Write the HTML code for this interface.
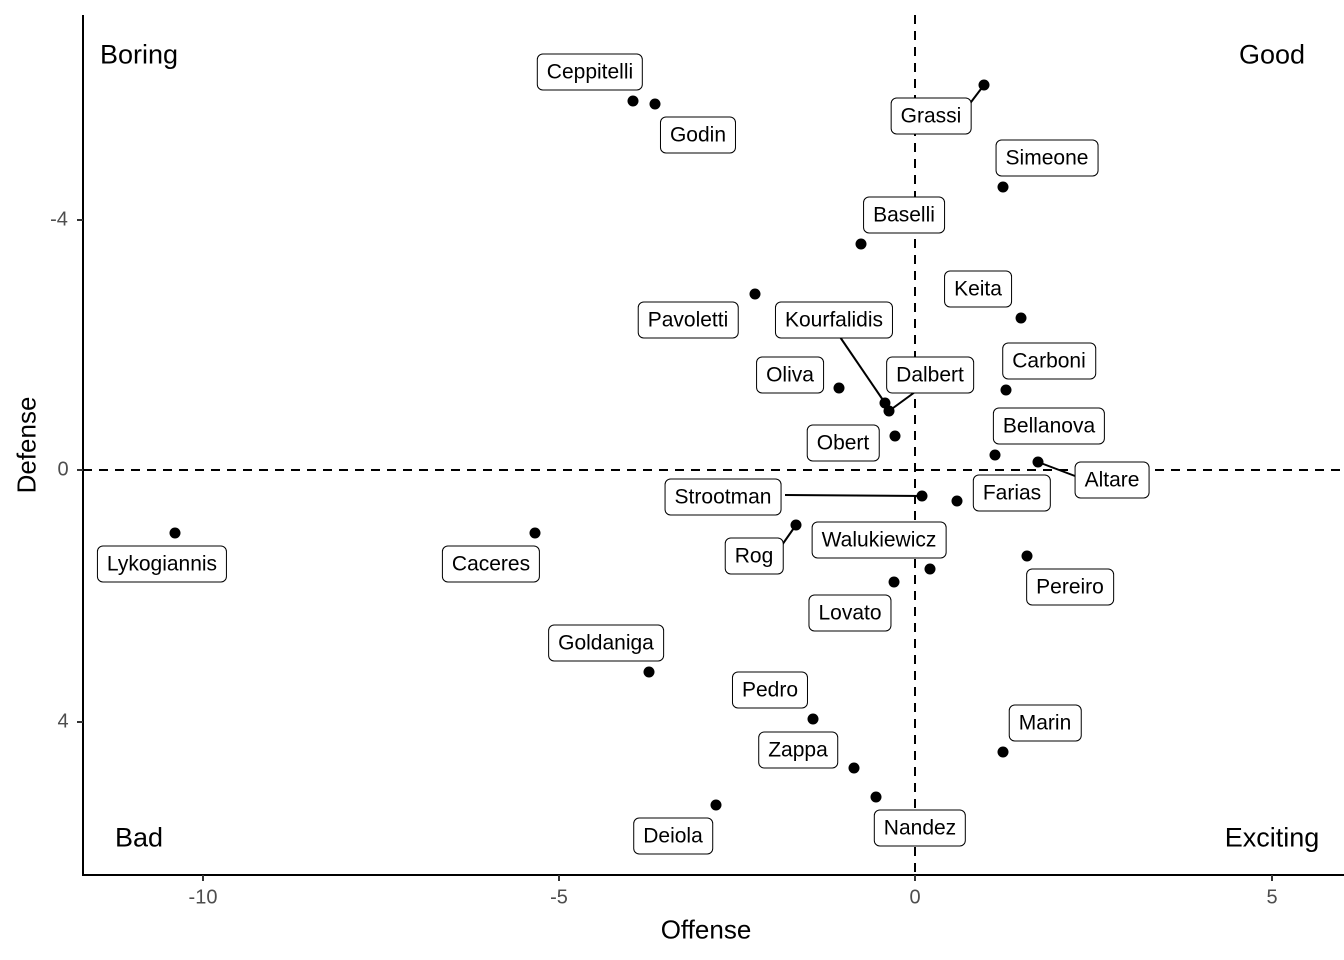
<!DOCTYPE html>
<html><head><meta charset="utf-8"><style>
body{margin:0;width:1344px;height:960px;background:#fff;position:relative;overflow:hidden;font-family:"Liberation Sans",Arial,sans-serif}
svg{position:absolute;left:0;top:0}
.l{position:absolute;transform:translate(-50%,-50%);background:#fff;border:1px solid #000;border-radius:6px;padding:0 9px;height:35px;line-height:35px;font-size:21px;color:#000;white-space:nowrap}
.c{position:absolute;transform:translate(-50%,-50%);font-size:27px;white-space:nowrap}
.t{position:absolute;font-size:20px;color:#4d4d4d;transform:translate(-50%,-50%)}
</style></head><body>
<svg width="1344" height="960">
<line x1="915" y1="15" x2="915" y2="875" stroke="#000" stroke-width="2" stroke-dasharray="9,7"/>
<line x1="83" y1="470" x2="1344" y2="470" stroke="#000" stroke-width="2" stroke-dasharray="9,7"/>
<line x1="83" y1="15" x2="83" y2="876" stroke="#000" stroke-width="2"/>
<line x1="82" y1="875" x2="1344" y2="875" stroke="#000" stroke-width="2"/>
<g stroke="#333" stroke-width="2">
<line x1="203" y1="875" x2="203" y2="881"/><line x1="559" y1="875" x2="559" y2="881"/><line x1="915" y1="875" x2="915" y2="881"/><line x1="1272" y1="875" x2="1272" y2="881"/>
<line x1="77" y1="220" x2="83" y2="220"/><line x1="77" y1="470" x2="83" y2="470"/><line x1="77" y1="722" x2="83" y2="722"/>
</g>
<g stroke="#000" stroke-width="2">
<line x1="984" y1="85" x2="965" y2="110"/>
<line x1="885" y1="403" x2="840" y2="337"/>
<line x1="889" y1="411" x2="915" y2="392"/>
<line x1="1038" y1="462" x2="1075" y2="476"/>
<line x1="922" y1="496" x2="785" y2="495"/>
<line x1="796" y1="525" x2="782" y2="545"/>
</g>
<g fill="#000">
<circle cx="633" cy="101" r="5.5"/><circle cx="655" cy="104" r="5.5"/><circle cx="984" cy="85" r="5.5"/><circle cx="1003" cy="187" r="5.5"/>
<circle cx="861" cy="244" r="5.5"/><circle cx="1021" cy="318" r="5.5"/><circle cx="755" cy="294" r="5.5"/><circle cx="885" cy="403" r="5.5"/>
<circle cx="1006" cy="390" r="5.5"/><circle cx="839" cy="388" r="5.5"/><circle cx="889" cy="411" r="5.5"/><circle cx="895" cy="436" r="5.5"/>
<circle cx="995" cy="455" r="5.5"/><circle cx="1038" cy="462" r="5.5"/><circle cx="922" cy="496" r="5.5"/><circle cx="957" cy="501" r="5.5"/>
<circle cx="175" cy="533" r="5.5"/><circle cx="535" cy="533" r="5.5"/><circle cx="796" cy="525" r="5.5"/><circle cx="930" cy="569" r="5.5"/>
<circle cx="1027" cy="556" r="5.5"/><circle cx="894" cy="582" r="5.5"/><circle cx="649" cy="672" r="5.5"/><circle cx="813" cy="719" r="5.5"/>
<circle cx="1003" cy="752" r="5.5"/><circle cx="854" cy="768" r="5.5"/><circle cx="876" cy="797" r="5.5"/><circle cx="716" cy="805" r="5.5"/>
</g>
</svg>
<div class="l" style="left:590px;top:72px">Ceppitelli</div>
<div class="l" style="left:698px;top:135px">Godin</div>
<div class="l" style="left:931px;top:116px">Grassi</div>
<div class="l" style="left:1047px;top:158px">Simeone</div>
<div class="l" style="left:904px;top:215px">Baselli</div>
<div class="l" style="left:978px;top:289px">Keita</div>
<div class="l" style="left:688px;top:320px">Pavoletti</div>
<div class="l" style="left:834px;top:320px">Kourfalidis</div>
<div class="l" style="left:1049px;top:361px">Carboni</div>
<div class="l" style="left:790px;top:375px">Oliva</div>
<div class="l" style="left:930px;top:375px">Dalbert</div>
<div class="l" style="left:843px;top:443px">Obert</div>
<div class="l" style="left:1049px;top:426px">Bellanova</div>
<div class="l" style="left:1112px;top:480px">Altare</div>
<div class="l" style="left:723px;top:497px">Strootman</div>
<div class="l" style="left:1012px;top:493px">Farias</div>
<div class="l" style="left:162px;top:564px">Lykogiannis</div>
<div class="l" style="left:491px;top:564px">Caceres</div>
<div class="l" style="left:754px;top:556px">Rog</div>
<div class="l" style="left:879px;top:540px">Walukiewicz</div>
<div class="l" style="left:1070px;top:587px">Pereiro</div>
<div class="l" style="left:850px;top:613px">Lovato</div>
<div class="l" style="left:606px;top:643px">Goldaniga</div>
<div class="l" style="left:770px;top:690px">Pedro</div>
<div class="l" style="left:1045px;top:723px">Marin</div>
<div class="l" style="left:798px;top:750px">Zappa</div>
<div class="l" style="left:920px;top:828px">Nandez</div>
<div class="l" style="left:673px;top:836px">Deiola</div>
<div class="c" style="left:139px;top:55px">Boring</div>
<div class="c" style="left:1272px;top:55px">Good</div>
<div class="c" style="left:139px;top:838px">Bad</div>
<div class="c" style="left:1272px;top:838px">Exciting</div>
<div class="t" style="left:203px;top:898px">-10</div>
<div class="t" style="left:559px;top:898px">-5</div>
<div class="t" style="left:915px;top:898px">0</div>
<div class="t" style="left:1272px;top:898px">5</div>
<div class="t" style="left:59px;top:220px">-4</div>
<div class="t" style="left:63px;top:470px">0</div>
<div class="t" style="left:63px;top:722px">4</div>
<div class="c" style="left:706px;top:930px;font-size:26px">Offense</div>
<div class="c" style="left:27px;top:445px;font-size:26px;transform:translate(-50%,-50%) rotate(-90deg)">Defense</div>
</body></html>
